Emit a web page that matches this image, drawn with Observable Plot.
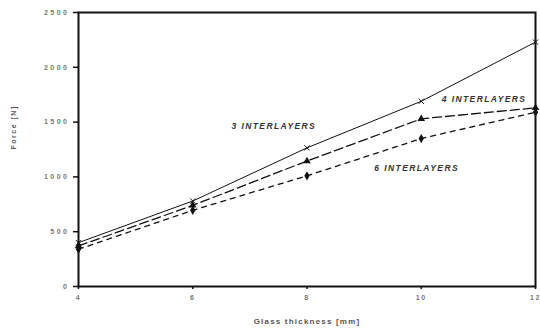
<!DOCTYPE html>
<html>
<head>
<meta charset="utf-8">
<script src="https://cdn.jsdelivr.net/npm/d3@7"></script>
<script src="https://cdn.jsdelivr.net/npm/@observablehq/plot@0.6"></script>
<style>
  html, body { margin: 0; padding: 0; background: #fff; }
  #chart { width: 540px; height: 334px; }
</style>
</head>
<body>
<div id="chart"></div>
<script>
// Data
const thickness = [4, 6, 8, 10, 12];                 // Glass thickness [mm]
const force3 = [400, 780, 1265, 1690, 2230];         // 3 interlayers
const force4 = [370, 740, 1145, 1530, 1630];         // 4 interlayers
const force6 = [340, 695, 1010, 1350, 1590];         // 6 interlayers
const seriesNames = ["3 INTERLAYERS", "4 INTERLAYERS", "6 INTERLAYERS"];
const xTicks = [4, 6, 8, 10, 12];
const yTicks = [0, 500, 1000, 1500, 2000, 2500];
const xLabel = "Glass thickness [mm]";
const yLabel = "Force [N]";
// annotation anchors (data units)
const labelX = [7.42, 11.1, 9.92];
const labelY = [1460, 1710, 1075];

const rows = [];
[force3, force4, force6].forEach((arr, s) => {
  arr.forEach((v, i) => rows.push({series: seriesNames[s], x: thickness[i], y: v}));
});
const labels = seriesNames.map((n, i) => ({name: n, x: labelX[i], y: labelY[i]}));
const s3 = rows.filter(d => d.series === seriesNames[0]);
const s4 = rows.filter(d => d.series === seriesNames[1]);
const s6 = rows.filter(d => d.series === seriesNames[2]);

const chart = Plot.plot({
  width: 540,
  height: 334,
  marginLeft: 78,
  marginRight: 5,
  marginTop: 12,
  marginBottom: 48,
  style: {fontFamily: "Liberation Sans, Arial, sans-serif", fontWeight: "bold", background: "#fff"},
  x: {domain: [4, 12], label: null},
  y: {domain: [0, 2500], label: null},
  marks: [
    Plot.line(s3, {x: "x", y: "y", stroke: "#111", strokeWidth: 1}),
    Plot.line(s4, {x: "x", y: "y", stroke: "#111", strokeWidth: 1.3, strokeDasharray: "9,4"}),
    Plot.line(s6, {x: "x", y: "y", stroke: "#111", strokeWidth: 1.3, strokeDasharray: "5,5"}),
    Plot.dot(s3, {x: "x", y: "y", symbol: "times", r: 2.5, stroke: "#111", strokeWidth: 1}),
    Plot.dot(s4, {x: "x", y: "y", symbol: "triangle", r: 2.8, fill: "#111"}),
    Plot.dot(s6, {x: "x", y: "y", symbol: "diamond", r: 2.8, fill: "#111"}),
    Plot.frame({stroke: "#111", strokeWidth: 2}),
    Plot.axisY({ticks: yTicks, tickFormat: d => String(d), tickSize: 5, tickPadding: 4, fontSize: 7, fill: "#777", stroke: "#111", strokeWidth: 1.5, label: null}),
    Plot.axisX({ticks: xTicks, tickFormat: d => String(d), tickSize: 3, tickPadding: 6, fontSize: 7, fill: "#777", stroke: "#111", strokeWidth: 1.5, label: null}),
    Plot.text(labels, {x: "x", y: "y", text: "name", fontSize: 8.5, fontStyle: "italic", fontWeight: "bold", fill: "#333", className: "ann"}),
    Plot.text([yLabel], {frameAnchor: "left", dx: -65, rotate: -90, fontSize: 7, fill: "#555", className: "ylab"}),
    Plot.text([xLabel], {frameAnchor: "bottom", dy: 37, fontSize: 8, fill: "#555", className: "xlab"})
  ]
});
document.getElementById("chart").appendChild(chart);
const svg = d3.select(chart);
svg.selectAll("g[aria-label='y-axis tick label'] text").style("letter-spacing", "2.5px");
svg.selectAll("g[aria-label='x-axis tick label'] text").style("letter-spacing", "1.5px");
svg.selectAll(".ann text").style("letter-spacing", "1.4px");
svg.selectAll(".ylab text").style("letter-spacing", "1.5px");
svg.selectAll(".xlab text").style("letter-spacing", "1.2px");
</script>
</body>
</html>
